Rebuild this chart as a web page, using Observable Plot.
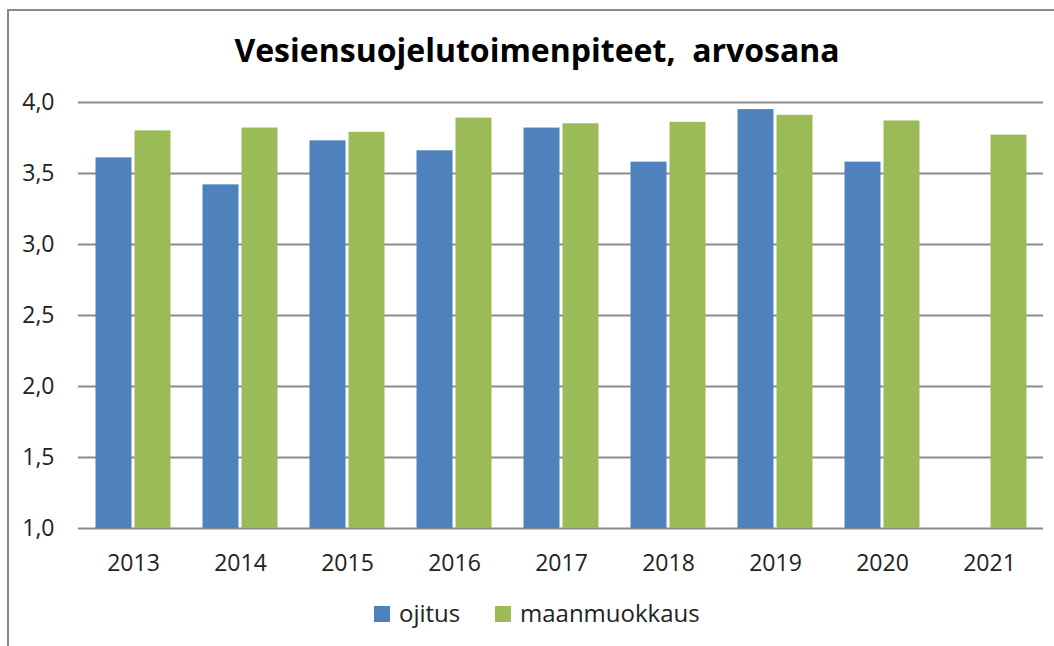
<!DOCTYPE html>
<html><head><meta charset="utf-8">
<script src="https://cdn.jsdelivr.net/npm/d3@7"></script>
<script src="https://cdn.jsdelivr.net/npm/@observablehq/plot@0.6"></script>
<style>
html,body{margin:0;padding:0;background:#fff;overflow:hidden;width:1054px;height:646px;}
#frame{position:absolute;left:7px;top:9px;width:1200px;height:800px;border-left:2px solid #8a8a8a;border-top:2px solid #8a8a8a;}
#title{position:absolute;left:0;top:34px;width:1074px;text-align:center;font:bold 32px "Open Sans",sans-serif;line-height:1;color:#000;white-space:pre;}
#chart{position:absolute;left:0;top:80px;}
#legend{position:absolute;left:0;top:601px;width:1054px;height:30px;font:24px "Open Sans",sans-serif;line-height:1;color:#222;white-space:nowrap;}
#legend .sw{display:inline-block;width:16px;height:16px;margin-right:9px;vertical-align:baseline;}
#legend .item{position:absolute;top:0;}
</style></head>
<body>
<div id="frame"></div>
<div id="title">Vesiensuojelutoimenpiteet,  arvosana</div>
<div id="chart"></div>
<div id="legend"></div>
<script>
const years = ["2013","2014","2015","2016","2017","2018","2019","2020","2021"];
const seriesNames = ["ojitus","maanmuokkaus"];
const ojitus = [3.61,3.42,3.73,3.66,3.82,3.58,3.95,3.58,null];
const maanmuokkaus = [3.80,3.82,3.79,3.89,3.85,3.86,3.91,3.87,3.77];
const colors = ["#4F81BD","#9BBB59"];
const yTicks = [1.0,1.5,2.0,2.5,3.0,3.5,4.0];

const rowsO = years.map((year,i)=>({year, value: ojitus[i]})).filter(d=>d.value!=null);
const rowsM = years.map((year,i)=>({year, value: maanmuokkaus[i]})).filter(d=>d.value!=null);

const plot = Plot.plot({
  width: 1054,
  height: 500,
  marginLeft: 78,
  marginRight: 11,
  marginTop: 22,
  marginBottom: 52,
  style: {fontFamily: "'Open Sans', sans-serif", fontSize: "23px", color: "#222", background: "transparent", overflow: "visible"},
  x: {domain: years, paddingInner: 0.664, paddingOuter: 0.332, label: null},
  y: {domain: [1, 4], label: null},
  marks: [
    Plot.gridY(yTicks, {stroke: "#8c8c8c", strokeOpacity: 1, strokeWidth: 2}),
    Plot.barY(rowsO, {x: "year", y1: 1, y2: "value", fill: colors[0], dx: -19.5, inset: 0}),
    Plot.barY(rowsM, {x: "year", y1: 1, y2: "value", fill: colors[1], dx: 19.5, inset: 0}),
    Plot.axisY({ticks: yTicks, tickSize: 0, tickPadding: 24, tickFormat: d => d.toFixed(1).replace(".", ","), label: null}),
    Plot.axisX({tickSize: 0, tickPadding: 26, label: null})
  ]
});
document.getElementById("chart").appendChild(plot);

const legend = document.getElementById("legend");
const legendLeft = [374, 495];
seriesNames.forEach((name,i)=>{
  const item = document.createElement("span");
  item.className = "item";
  item.style.left = legendLeft[i] + "px";
  const sw = document.createElement("span");
  sw.className = "sw";
  sw.style.background = colors[i];
  item.appendChild(sw);
  item.appendChild(document.createTextNode(name));
  legend.appendChild(item);
});
</script>
</body></html>
